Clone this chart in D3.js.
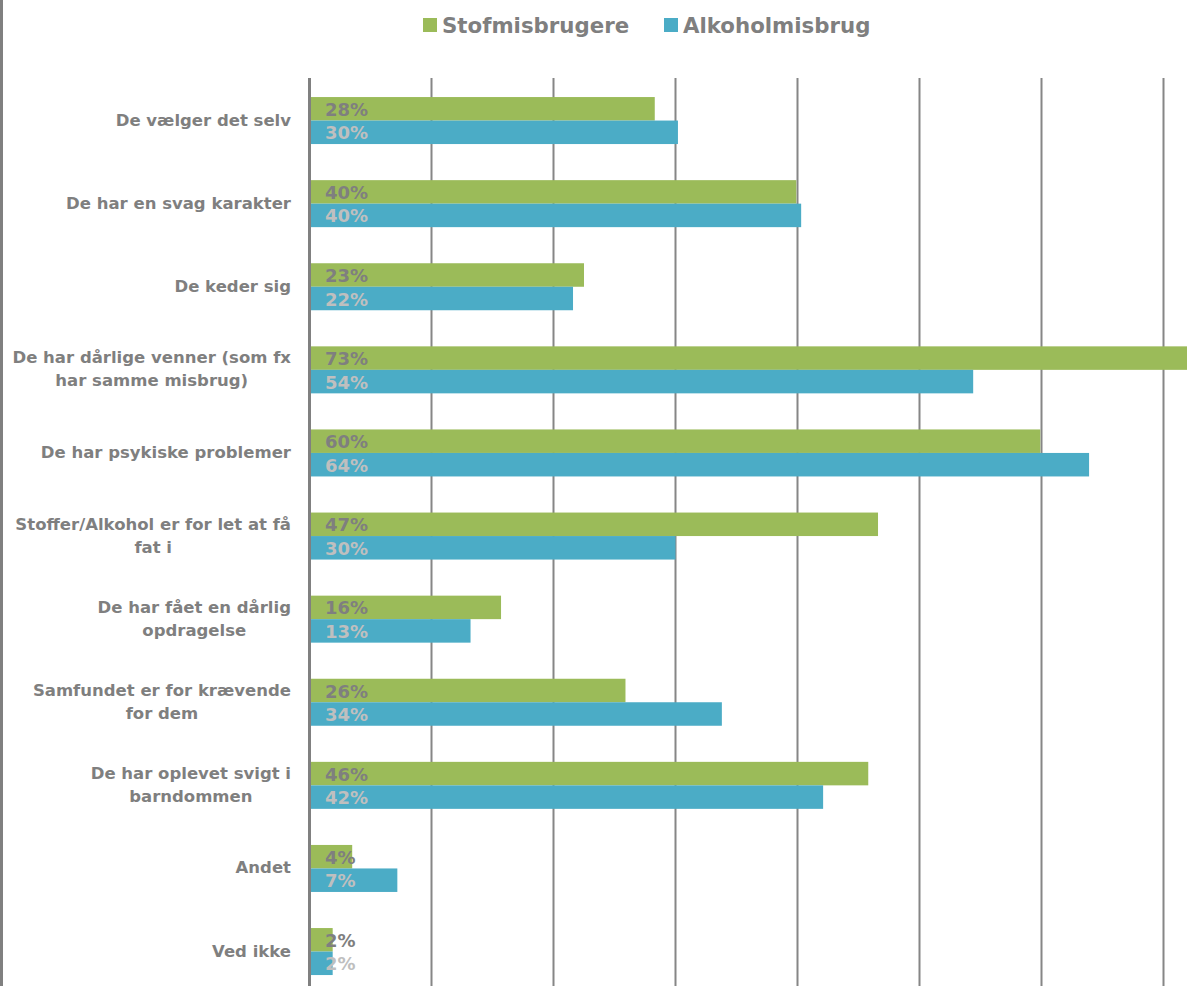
<!DOCTYPE html>
<html>
<head>
<meta charset="utf-8">
<script src="https://cdn.jsdelivr.net/npm/d3@7"></script>
<style>
  body { margin: 0; background: #fff; }
  svg { display: block; font-family: "DejaVu Sans", Verdana, sans-serif; font-weight: bold; }
</style>
</head>
<body>
<svg id="chart" width="1187" height="986"></svg>
<script>
// categories, line breaks as in the original labels
var categories = [
    "De vælger det selv",
    "De har en svag karakter",
    "De keder sig",
    "De har dårlige venner (som fx\nhar samme misbrug)",
    "De har psykiske problemer",
    "Stoffer/Alkohol er for let at få\nfat i",
    "De har fået en dårlig\nopdragelse",
    "Samfundet er for krævende\nfor dem",
    "De har oplevet svigt i\nbarndommen",
    "Andet",
    "Ved ikke"
];
var seriesNames = ["Stofmisbrugere", "Alkoholmisbrug"];
var stofValues = [28.3, 39.9, 22.5, 72.6, 59.9, 46.6, 15.7, 25.9, 45.8, 3.5, 1.9];
var alkoValues = [30.2, 40.3, 21.6, 54.4, 63.9, 30.0, 13.2, 33.8, 42.1, 7.2, 1.9];
var gridTicks = [0, 10, 20, 30, 40, 50, 60, 70];

var colors = ["#9bbb59", "#4bacc6"];
var labelColors = ["#7f7f7f", "#bfbfbf"];

var svg = d3.select("#chart");
var W = 1187, H = 986;

var x = d3.scaleLinear().domain([0, 70]).range([309.5, 1163.5]);
var y = d3.scaleBand().domain(d3.range(categories.length)).range([79, 79 + 83.1 * categories.length]);
var barH = 23.5;

// left border of the frame
svg.append("line")
    .attr("x1", 1.5).attr("x2", 1.5).attr("y1", 0).attr("y2", H)
    .attr("stroke", "#808080").attr("stroke-width", 3);

// vertical gridlines
svg.append("g").selectAll("line").data(gridTicks.slice(1)).enter().append("line")
    .attr("x1", function(d) { return x(d); })
    .attr("x2", function(d) { return x(d); })
    .attr("y1", 78).attr("y2", H)
    .attr("stroke", "#868686").attr("stroke-width", 2);

var data = [];
for (var ii = 0; ii < categories.length; ii++) {
    data.push({ i: ii, s: 0, v: stofValues[ii] });
    data.push({ i: ii, s: 1, v: alkoValues[ii] });
}

var barY = function(d) { return y(d.i) + y.bandwidth() / 2 - barH + d.s * barH; };

svg.append("g").selectAll("rect").data(data).enter().append("rect")
    .attr("x", x(0))
    .attr("y", barY)
    .attr("width", function(d) { return x(d.v) - x(0); })
    .attr("height", barH)
    .attr("fill", function(d) { return colors[d.s]; });

// value labels
svg.append("g").selectAll("text").data(data).enter().append("text")
    .attr("x", 325)
    .attr("y", function(d) { return barY(d) + barH / 2 + 7; })
    .attr("font-size", 18)
    .attr("fill", function(d) { return labelColors[d.s]; })
    .text(function(d) { return Math.round(d.v) + "%"; });

// axis line
svg.append("line")
    .attr("x1", x(0)).attr("x2", x(0)).attr("y1", 78).attr("y2", H)
    .attr("stroke", "#808080").attr("stroke-width", 3);

// category labels, block right aligned, lines centred in block
var catG = svg.append("g");
categories.forEach(function(c, i) {
    var lines = c.split("\n");
    var t = catG.append("text")
        .attr("font-size", 16.5)
        .attr("fill", "#7f7f7f")
        .attr("text-anchor", "middle");
    var spans = lines.map(function(l, k) {
        return t.append("tspan").text(l);
    });
    var maxW = d3.max(spans, function(s) { return s.node().getComputedTextLength(); });
    var cx = 291 - maxW / 2;
    var cy = y(i) + y.bandwidth() / 2;
    var lh = 23;
    var top = cy - (lines.length - 1) * lh / 2 + 5;
    spans.forEach(function(s, k) {
        s.attr("x", cx).attr("y", top + k * lh);
    });
});

// legend
var lg = svg.append("g");
var lx = [423, 664];
seriesNames.forEach(function(n, i) {
    lg.append("rect").attr("x", lx[i]).attr("y", 18).attr("width", 14).attr("height", 14)
        .attr("fill", colors[i]);
    lg.append("text").attr("x", lx[i] + 19).attr("y", 33)
        .attr("font-size", 21.3).attr("fill", "#7f7f7f").text(n);
});
</script>
</body>
</html>
